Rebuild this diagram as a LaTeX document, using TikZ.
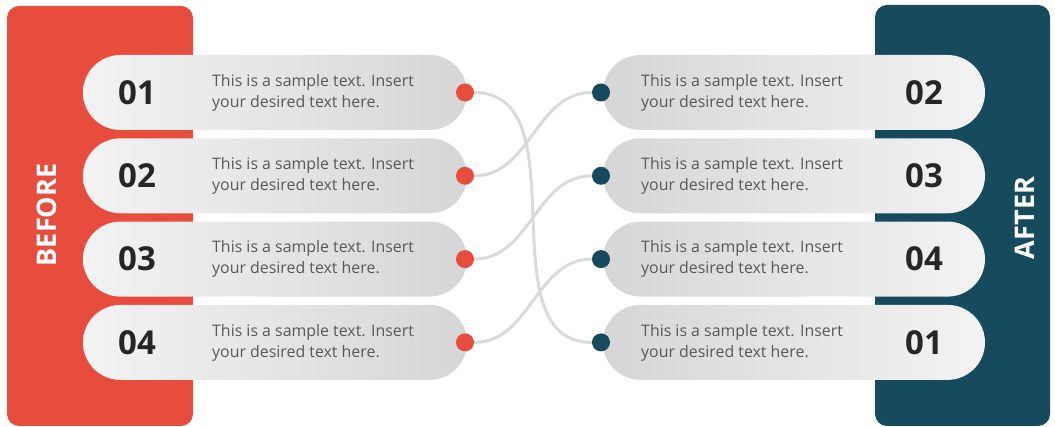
\documentclass[tikz,border=0pt]{standalone}
\usepackage{fontspec}
\setmainfont{Open Sans}
\usetikzlibrary{shapes.misc}
\definecolor{beforered}{HTML}{E84C3D}
\definecolor{afterblue}{HTML}{164B5E}
\definecolor{pilllight}{HTML}{F3F3F3}
\definecolor{pilldark}{HTML}{D6D6D6}
\definecolor{linkgray}{HTML}{DADADA}
\definecolor{numgray}{HTML}{262626}
\definecolor{txtgray}{HTML}{595959}
\begin{document}
\begin{tikzpicture}[x=1pt,y=-1pt,
  pill/.style={rounded rectangle, minimum height=75pt, inner sep=0pt},
  num/.style={font=\fontsize{33}{33}\selectfont\bfseries, text=numgray},
  blurb/.style={anchor=west, align=left, inner sep=0pt, text=txtgray,
    font=\fontsize{15.9}{21}\selectfont},
  dot/.style={circle, minimum size=18pt, inner sep=0pt},
  link/.style={linkgray, line width=3pt}]
\useasboundingbox (0,0) rectangle (1055,427);
% side bars
\fill[beforered, rounded corners=12pt] (7,6) rectangle (193,426);
\fill[afterblue, rounded corners=12pt] (875,5) rectangle (1050,426);
\node[rotate=90, white, font=\fontsize{27}{27}\selectfont\bfseries] (before) at (47,215) {BEFORE};
\node[rotate=90, white, font=\fontsize{27}{27}\selectfont\bfseries] (after) at (1025,218) {AFTER};
% rows
\foreach \i/\a/\b in {1/01/02, 2/02/03, 3/03/04, 4/04/01} {
  \node[pill, minimum width=384pt, left color=pilllight, right color=pilldark] (L\i) at (275,9.2+83.3*\i) {};
  \node[pill, minimum width=382pt, left color=pilldark, right color=pilllight] (R\i) at (794,9.2+83.3*\i) {};
  \node[num] (LN\i) at (137,9.2+83.3*\i) {\a};
  \node[num] (RN\i) at (924,9.2+83.3*\i) {\b};
  \node[blurb] (LT\i) at (212,9.2+83.3*\i) {This is a sample text. Insert\\your desired text here.};
  \node[blurb] (RT\i) at (641,9.2+83.3*\i) {This is a sample text. Insert\\your desired text here.};
  \node[dot, fill=beforered] (LD\i) at (465,9.2+83.3*\i) {};
  \node[dot, fill=afterblue] (RD\i) at (601,9.2+83.3*\i) {};
}
% links
\foreach \l/\r in {1/4, 2/1, 3/2, 4/3}
  \draw[link] (LD\l) to[out=0, in=180] (RD\r);
\end{tikzpicture}
\end{document}
